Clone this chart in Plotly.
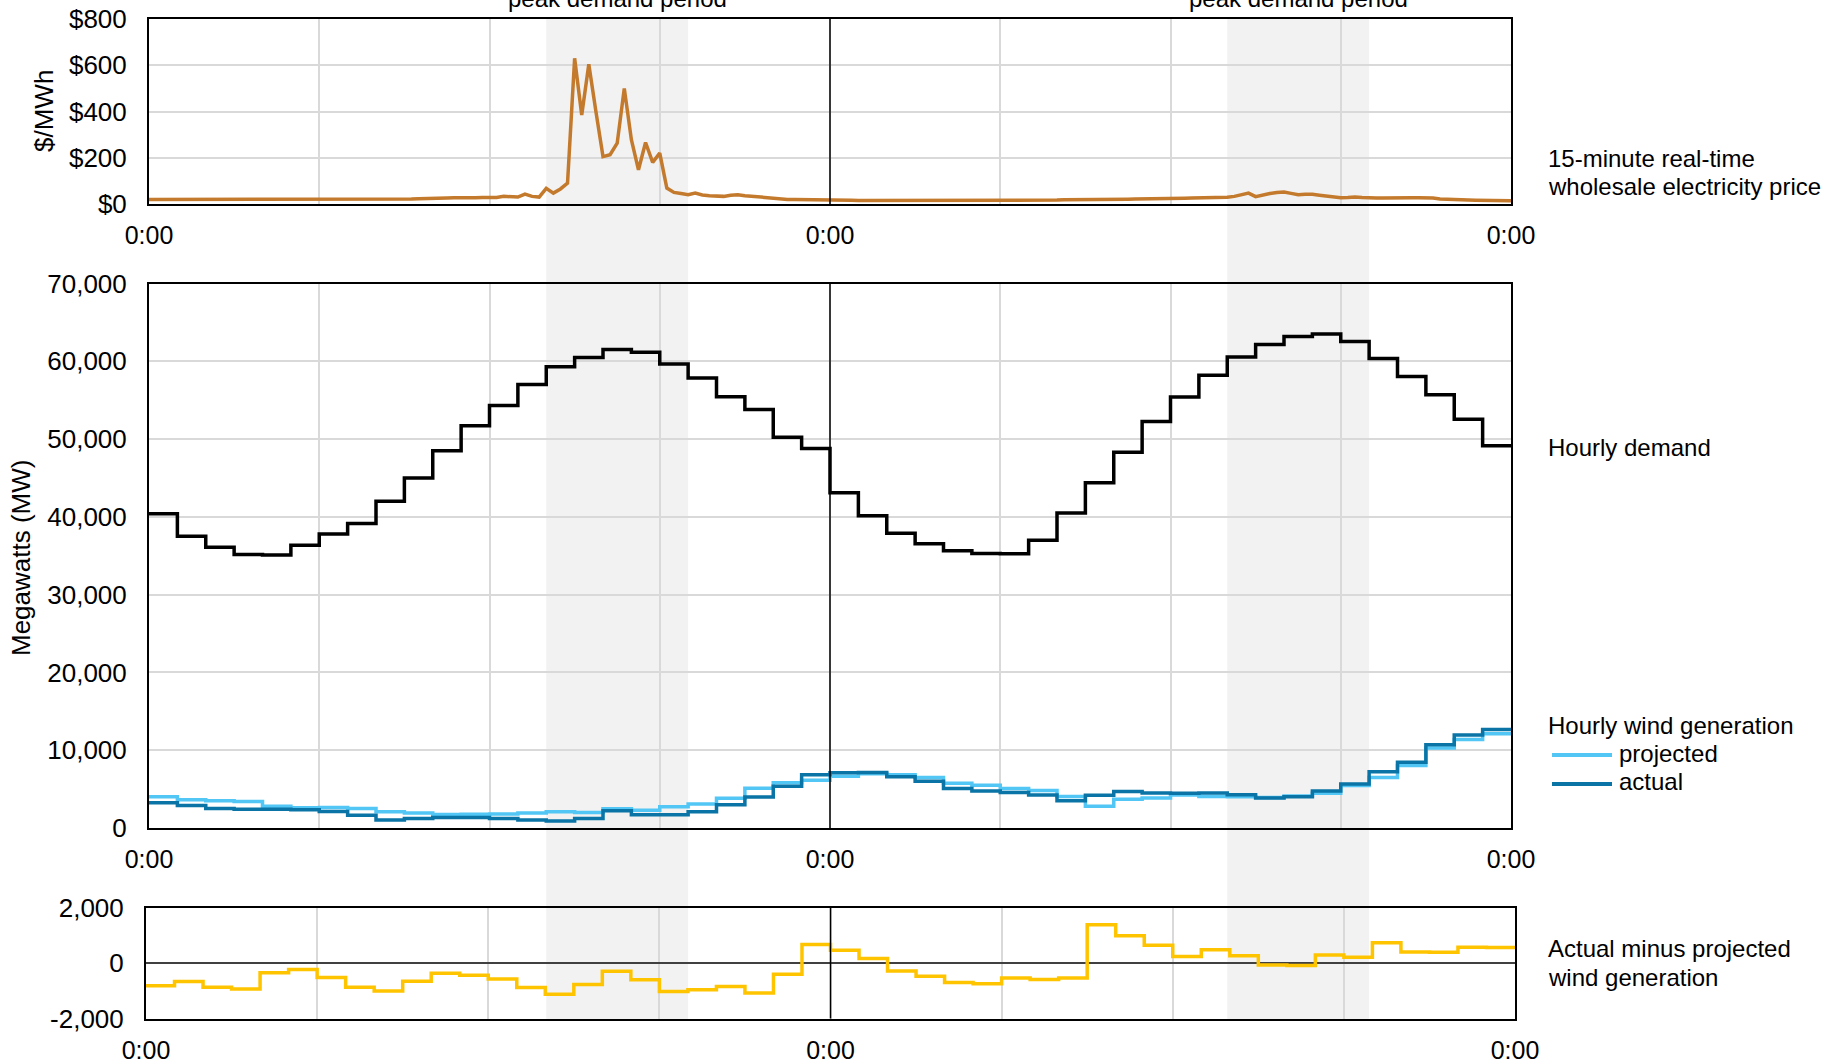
import plotly.graph_objects as go

# ---------------- data ----------------
hours_per_day = 24
n_days = 2
peak_start_hour = 14
peak_end_hour = 19

x_tick_vals = [0, 6, 12, 18, 24, 30, 36, 42, 48]
x_tick_text = ["0:00", "", "", "", "0:00", "", "", "", "0:00"]

price_tick_vals = [0, 200, 400, 600, 800]
price_tick_text = ["$0", "$200", "$400", "$600", "$800"]
mw_tick_vals = [0, 10000, 20000, 30000, 40000, 50000, 60000, 70000]
mw_tick_text = ["0", "10,000", "20,000", "30,000", "40,000", "50,000", "60,000", "70,000"]
diff_tick_vals = [-2000, 0, 2000]
diff_tick_text = ["-2,000", "0", "2,000"]

# 15-minute real-time price ($/MWh), 4 values per hour, plus final point
price_15min = [
    20, 20, 20, 19,  19, 19, 19, 19,  19, 19, 19, 19,  19, 19, 19, 19,      # 0-3
    19, 19, 19, 19,  19, 19, 19, 19,  19, 19, 20, 20,  20, 20, 20, 21,      # 4-7
    21, 21, 21, 22,  22, 22, 23, 23,  23, 24, 26, 27,  26, 27, 27, 28,      # 8-11
    28, 28, 33, 30,  30, 43, 33, 30,  68, 47, 65, 90,  630, 385, 604, 400,  # 12-15
    205, 213, 263, 500,  278, 148, 266, 180,  220, 69, 50, 45,  40, 47, 39, 36,  # 16-19
    36, 33, 38, 40,  36, 33, 30, 28,  25, 22, 20, 19,  19, 19, 18, 18,      # 20-23
    18, 17, 16, 16,  15, 15, 15, 14,  14, 14, 14, 14,  14, 14, 14, 14,      # 24-27
    14, 14, 14, 14,  14, 14, 14, 14,  14, 14, 15, 15,  15, 16, 16, 17,      # 28-31
    17, 18, 18, 19,  19, 19, 20, 20,  20, 21, 21, 22,  22, 22, 23, 23,      # 32-35
    24, 25, 25, 26,  26, 27, 27, 28,  29, 33, 40, 47,  32, 40, 45, 50,      # 36-39
    52, 46, 40, 42,  42, 38, 34, 30,  27, 28, 30, 28,  26, 26, 26, 27,      # 40-43
    27, 27, 27, 27,  27, 26, 22, 20,  19, 18, 17, 16,  15, 15, 14, 14,      # 44-47
    14,
]

# hourly demand (MW)
demand = [
    40400, 37500, 36100, 35150, 35100, 36350, 37800, 39150, 42000, 45000, 48500, 51700,
    54300, 57000, 59300, 60500, 61500, 61150, 59650, 57850, 55450, 53800, 50250, 48800,
    43100, 40150, 37900, 36550, 35650, 35300, 35250, 37000, 40500, 44400, 48300, 52250,
    55400, 58200, 60550, 62150, 63200, 63500, 62550, 60350, 58050, 55700, 52550, 49150,
]

# hourly wind generation (MW)
wind_projected = [
    4030, 3640, 3510, 3420, 2800, 2600, 2640, 2510, 2080, 1920, 1740, 1760,
    1800, 1940, 2080, 1990, 2480, 2290, 2730, 3080, 3820, 5100, 5820, 6150,
    6660, 6990, 6860, 6490, 5760, 5500, 5080, 4830, 4040, 2810, 3680, 3850,
    4250, 4040, 4030, 3910, 4110, 4460, 5450, 6490, 8030, 10300, 11370, 12120,
]
wind_actual = [
    3250, 2900, 2510, 2420, 2420, 2340, 2120, 1650, 1040, 1210, 1340, 1340,
    1210, 1040, 910, 1210, 2210, 1690, 1690, 2080, 2990, 3980, 5370, 6840,
    7100, 7140, 6580, 6020, 5070, 4760, 4550, 4240, 3510, 4200, 4680, 4500,
    4460, 4500, 4290, 3850, 4030, 4760, 5670, 7230, 8440, 10690, 11950, 12650,
]
# actual minus projected (MW)
wind_diff = [
    -810, -660, -870, -930, -340, -230, -520, -870, -1000, -650, -360, -430,
    -570, -880, -1120, -770, -290, -600, -1020, -960, -840, -1080, -400, 680,
    470, 170, -280, -470, -700, -740, -530, -590, -530, 1390, 1000, 650,
    240, 490, 270, -60, -80, 300, 220, 740, 410, 400, 580, 570,
]

# ---------------- styling / layout ----------------
W, H = 1837, 1063
FONT = "Liberation Sans, Arial, sans-serif"
C_PRICE = "#C47A2C"
C_DEMAND = "#000000"
C_PROJ = "#52C6F4"
C_ACT = "#0A74A6"
C_DIFF = "#FFC400"
C_GRID = "#D9D9D9"
C_SHADE = "#F2F2F2"


def px(x):
    return x / W


def py(y):
    return 1 - y / H


x_dom = [px(149), px(1511)]
x3_dom = [px(146), px(1515)]
y1_dom = [py(204), py(19)]
y2_dom = [py(828), py(283.5)]
y3_dom = [py(1018.5), py(908)]

total_hours = hours_per_day * n_days
hour_x = list(range(total_hours + 1))
price_x = [i / 4 for i in range(len(price_15min))]


def step(vals):
    return vals + [vals[-1]]


fig = go.Figure()
fig.add_trace(go.Scatter(x=price_x, y=price_15min, mode="lines",
                         line=dict(color=C_PRICE, width=3.5), xaxis="x", yaxis="y",
                         showlegend=False, hoverinfo="skip"))
fig.add_trace(go.Scatter(x=hour_x, y=step(demand), mode="lines", line_shape="hv",
                         line=dict(color=C_DEMAND, width=3.5), xaxis="x2", yaxis="y2",
                         showlegend=False))
fig.add_trace(go.Scatter(x=hour_x, y=step(wind_projected), mode="lines", line_shape="hv",
                         line=dict(color=C_PROJ, width=3.5), xaxis="x2", yaxis="y2",
                         showlegend=False))
fig.add_trace(go.Scatter(x=hour_x, y=step(wind_actual), mode="lines", line_shape="hv",
                         line=dict(color=C_ACT, width=3.5), xaxis="x2", yaxis="y2",
                         showlegend=False))
fig.add_trace(go.Scatter(x=hour_x, y=step(wind_diff), mode="lines", line_shape="hv",
                         line=dict(color=C_DIFF, width=3.5), xaxis="x3", yaxis="y3",
                         showlegend=False))

xtickfont = dict(family=FONT, size=25, color="black")
ytickfont = dict(family=FONT, size=26, color="black")


def xaxis(dom, anchor):
    return dict(domain=dom, anchor=anchor, range=[0, total_hours],
                tickvals=x_tick_vals, ticktext=x_tick_text,
                showgrid=True, gridcolor=C_GRID, gridwidth=2,
                showline=True, linecolor="black", linewidth=2, mirror=True,
                zeroline=False, ticks="outside", ticklen=8,
                tickcolor="rgba(0,0,0,0)", tickfont=xtickfont,
                automargin=False, fixedrange=True)


def yaxis(dom, anchor, rng, tv, tt, grid=True):
    return dict(domain=dom, anchor=anchor, range=rng, tickvals=tv, ticktext=tt,
                showgrid=grid, gridcolor=C_GRID, gridwidth=2,
                showline=True, linecolor="black", linewidth=2, mirror=True,
                zeroline=False, ticks="outside", ticklen=15,
                tickcolor="rgba(0,0,0,0)", tickfont=ytickfont,
                automargin=False, fixedrange=True)


y3 = yaxis(y3_dom, "x3", [-2000, 2000], diff_tick_vals, diff_tick_text, grid=False)
y3.update(zeroline=True, zerolinecolor="#404040", zerolinewidth=2)

shapes = []
# peak demand shading, spanning all panels
for d in range(n_days):
    shapes.append(dict(type="rect", xref="x", yref="paper",
                       x0=d * hours_per_day + peak_start_hour,
                       x1=d * hours_per_day + peak_end_hour,
                       y0=py(1021), y1=y1_dom[1], fillcolor=C_SHADE,
                       line=dict(width=0), layer="below"))
# black day separator
for xr, yr in (("x", "y"), ("x2", "y2"), ("x3", "y3")):
    shapes.append(dict(type="line", xref=xr, yref=yr + " domain",
                       x0=hours_per_day, x1=hours_per_day, y0=0, y1=1,
                       line=dict(color="black", width=1.5), layer="above"))
# legend swatches
shapes.append(dict(type="line", xref="paper", yref="paper", x0=px(1552), x1=px(1612),
                   y0=py(755), y1=py(755), line=dict(color=C_PROJ, width=4), layer="above"))
shapes.append(dict(type="line", xref="paper", yref="paper", x0=px(1552), x1=px(1612),
                   y0=py(784), y1=py(784), line=dict(color=C_ACT, width=4), layer="above"))

afont = dict(family=FONT, size=24, color="black")
tfont = dict(family=FONT, size=26, color="black")
annotations = []


def label(text, x, y, anchor="left", font=afont, **kw):
    annotations.append(dict(text=text, xref="paper", yref="paper", x=px(x), y=py(y),
                            xanchor=anchor, yanchor="middle", showarrow=False,
                            font=font, **kw))


label("15-minute real-time", 1546, 158)
label("wholesale electricity price", 1546, 186)
label("Hourly demand", 1546, 447)
label("Hourly wind generation", 1546, 725)
label("projected", 1617, 753)
label("actual", 1617, 781)
label("Actual minus projected", 1546, 948)
label("wind generation", 1546, 977)
label("$/MWh", 44, 111, anchor="center", font=tfont, textangle=-90)
label("Megawatts (MW)", 21, 558, anchor="center", font=tfont, textangle=-90)
for d in range(n_days):
    annotations.append(dict(text="peak demand period", xref="x", yref="paper",
                            x=d * hours_per_day + (peak_start_hour + peak_end_hour) / 2,
                            y=py(-2), xanchor="center", yanchor="middle",
                            showarrow=False, font=afont))

fig.update_layout(
    width=W, height=H, autosize=False, template="none",
    margin=dict(l=0, r=0, t=0, b=0, pad=0),
    paper_bgcolor="white", plot_bgcolor="rgba(0,0,0,0)",
    font=dict(family=FONT, size=24, color="black"),
    showlegend=False,
    xaxis=xaxis(x_dom, "y"),
    xaxis2=xaxis(x_dom, "y2"),
    xaxis3=xaxis(x3_dom, "y3"),
    yaxis=yaxis(y1_dom, "x", [0, 800], price_tick_vals, price_tick_text),
    yaxis2=yaxis(y2_dom, "x2", [0, 70000], mw_tick_vals, mw_tick_text),
    yaxis3=y3,
    shapes=shapes,
    annotations=annotations,
)

fig.write_html("out.html", config={"displayModeBar": False},
               post_script="document.body.style.margin='0';")
